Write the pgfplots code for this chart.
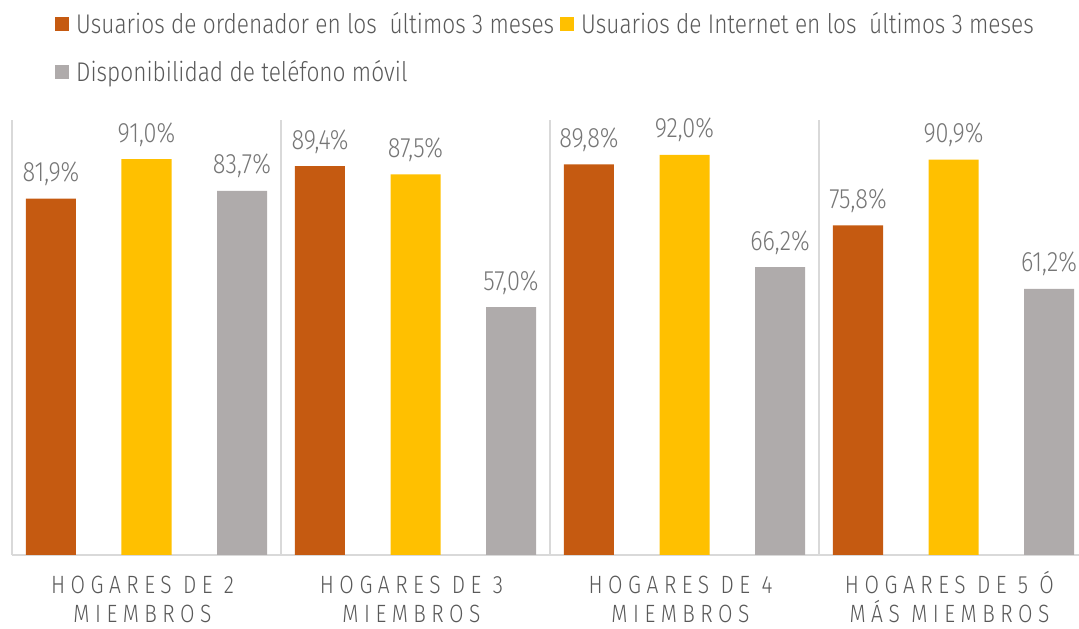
\documentclass[border=0pt]{standalone}
\usepackage{pgfplots}
\pgfplotsset{compat=1.18}
\usepackage{fontspec}
\setmainfont{Fira Sans}[UprightFont=* Light, FakeStretch=0.84]
\newfontfamily\spacedfont{Fira Sans}[UprightFont=* Light, FakeStretch=0.84, LetterSpace=22]
\definecolor{cOrange}{RGB}{197,90,17}
\definecolor{cYellow}{RGB}{255,192,0}
\definecolor{cGray}{RGB}{175,171,171}
\definecolor{txt}{RGB}{89,89,89}
\definecolor{lbl}{RGB}{118,118,118}
\definecolor{gridc}{RGB}{217,217,217}
\begin{document}
\begin{tikzpicture}
\useasboundingbox (0,0) rectangle (1079pt,629pt);
\clip (0,0) rectangle (1079pt,629pt);
\begin{axis}[
  at={(12pt,74pt)}, anchor=south west,
  scale only axis, width=1076pt, height=435pt,
  xmin=-0.5, xmax=3.5, ymin=0, ymax=100,
  ybar, bar width=50pt,
  axis y line=none, axis x line*=bottom,
  x axis line style={draw=gridc, line width=1.5pt},
  xtick={0,1,2,3},
  xticklabels={{\vphantom{Ó}HOGARES DE 2\\MIEMBROS},{\vphantom{Ó}HOGARES DE 3\\MIEMBROS},{\vphantom{Ó}HOGARES DE 4\\MIEMBROS},{\vphantom{Ó}HOGARES DE 5 Ó\\MÁS MIEMBROS}},
  xticklabel style={align=center, font=\spacedfont\fontsize{25}{29}\selectfont, text=txt, anchor=north, inner sep=0pt, yshift=-16pt, xshift=-4pt},
  major tick length=0pt, minor tick length=0pt,
  minor xtick={-0.5,0.5,1.5,2.5,3.5},
  xminorgrids=true,
  minor grid style={draw=gridc, line width=1.5pt},
  /pgf/number format/assume math mode=true,
  nodes near coords={\pgfmathprintnumber[fixed,fixed zerofill,precision=1,use comma]{\pgfplotspointmeta}\%},
  every node near coord/.append style={font=\fontsize{28}{30}\selectfont, text=lbl, anchor=base, yshift=17pt, inner sep=0pt},
  legend columns=2,
  legend cell align=left,
  legend image code/.code={\fill[#1] (0pt,-7pt) rectangle (14pt,7pt);},
  legend style={at={(0.0400,1.247)}, anchor=north west, draw=none, fill=none,
    font=\fontsize{27}{30}\selectfont, text=txt, inner sep=0pt, row sep=25pt,
    nodes={inner sep=0pt},
    /tikz/every odd column/.append style={column sep=7pt},
    /tikz/every even column/.append style={column sep=6pt}},
]
\addplot[bar shift=-95.5pt, fill=cOrange, draw=none] coordinates {(0,81.9) (1,89.4) (2,89.8) (3,75.8)};
\addplot[bar shift=0pt, fill=cYellow, draw=none] coordinates {(0,91.0) (1,87.5) (2,92.0) (3,90.9)};
\addplot[bar shift=95.5pt, fill=cGray, draw=none] coordinates {(0,83.7) (1,57.0) (2,66.2) (3,61.2)};
\legend{Usuarios de ordenador en los\ \ últimos 3 meses, Usuarios de Internet en los\ \ últimos 3 meses, Disponibilidad de teléfono móvil}
\end{axis}
\end{tikzpicture}
\end{document}
